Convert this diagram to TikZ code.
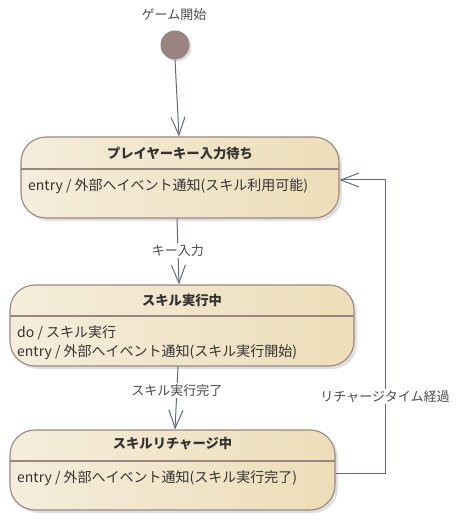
\documentclass[tikz,border=0pt]{standalone}
\usepackage{fontspec}
\setmainfont{Noto Sans CJK JP}
\usetikzlibrary{arrows.meta,shadows}
\definecolor{edgec}{HTML}{5E6A85}
\definecolor{statebd}{HTML}{9C8582}
\definecolor{initc}{HTML}{9A8482}
\definecolor{fillL}{HTML}{F5EDDC}
\definecolor{fillR}{HTML}{EDDEB8}
\definecolor{txt}{HTML}{333333}
\definecolor{lbltxt}{HTML}{4A4A4A}
\begin{document}
\begin{tikzpicture}[x=1pt,y=-1pt,
  state/.style={draw=statebd, line width=1.1pt, rounded corners=25pt,
    left color=fillL, right color=fillR, inner sep=0pt,
    drop shadow={shadow xshift=3pt, shadow yshift=-3pt, fill=black!30, opacity=0.4}},
  sep/.style={draw=statebd, line width=1.1pt},
  ttl/.style={font=\fontsize{13.3}{15}\selectfont\bfseries, text=txt, inner sep=0pt},
  body/.style={font=\fontsize{14}{19}\selectfont, text=txt, align=left, anchor=west, inner sep=0pt},
  flow/.style={draw=edgec, line width=1pt, -{Straight Barb[length=18pt,width=14pt,line width=1pt]}},
  lbl/.style={fill=white, font=\fontsize{13}{15}\selectfont, text=lbltxt, inner sep=1.5pt}]
\useasboundingbox (0,0) rectangle (458,526);

\node[font=\fontsize{13}{15}\selectfont, text=lbltxt] (start) at (174,15) {ゲーム開始};
\node[circle, fill=initc, minimum size=29pt, inner sep=0pt,
  drop shadow={shadow xshift=2pt, shadow yshift=-2pt, fill=black!30, opacity=0.4}] (init) at (175,45) {};

% state 1
\node[state, minimum width=318pt, minimum height=81pt] (s1) at (180,177.5) {};
\node[ttl] (s1t) at (180,153) {プレイヤーキー入力待ち};
\draw[sep] (21,169) -- (339,169);
\node[body] (s1b) at (28,186) {entry / 外部へイベント通知(スキル利用可能)};

% state 2
\node[state, minimum width=344pt, minimum height=81pt] (s2) at (182,325.5) {};
\node[ttl] (s2t) at (182,300) {スキル実行中};
\draw[sep] (10,316) -- (354,316);
\node[body] (s2b) at (17,342.5) {do / スキル実行\\entry / 外部へイベント通知(スキル実行開始)};

% state 3
\node[state, minimum width=325pt, minimum height=80pt] (s3) at (172.5,470) {};
\node[ttl] (s3t) at (172.5,444) {スキルリチャージ中};
\draw[sep] (10,461) -- (335,461);
\node[body] (s3b) at (17,478) {entry / 外部へイベント通知(スキル実行完了)};

% transitions
\draw[flow] (init.south) -- ([xshift=-1pt]s1.north);
\draw[flow] ([xshift=-3pt]s1.south) -- node[lbl, pos=0.48] (l1) {キー入力} ([xshift=-3pt]s2.north);
\draw[flow] ([xshift=-4pt]s2.south) -- node[lbl, pos=0.38] (l2) {スキル実行完了} ([xshift=2.5pt]s3.north);
\coordinate (r1) at (385,473);
\coordinate (r2) at (385,180);
\draw[flow] ([yshift=-3pt]s3.east) -- (r1) -- node[lbl, pos=0.26] (l3) {リチャージタイム経過} (r2) -- ([yshift=-2.5pt]s1.east);
\end{tikzpicture}
\end{document}
